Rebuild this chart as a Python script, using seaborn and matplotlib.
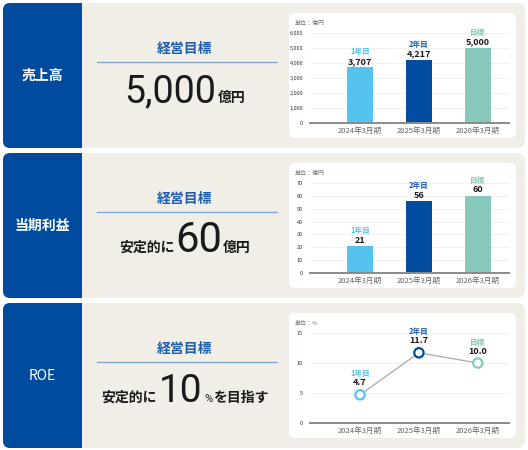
import matplotlib
matplotlib.use("Agg")
import matplotlib.pyplot as plt
import seaborn as sns
import pandas as pd
from matplotlib.patches import FancyBboxPatch, Rectangle
from matplotlib.lines import Line2D

sns.set_theme(style="white")
plt.rcParams['font.family'] = ['Noto Sans CJK JP', 'DejaVu Sans']

# ---------------- data ----------------
periods = ["2024年3月期", "2025年3月期", "2026年3月期"]
stage_labels = ["1年目", "2年目", "目標"]
sales = [3707, 4217, 5000]
sales_text = ["3,707", "4,217", "5,000"]
profit = [21, 56, 60]
profit_text = ["21", "56", "60"]
roe = [4.7, 11.7, 10.0]
roe_text = ["4.7", "11.7", "10.0"]
row_titles = ["売上高", "当期利益", "ROE"]
sales_ticks = [0, 1000, 2000, 3000, 4000, 5000, 6000]
sales_ticklabels = ["0", "1,000", "2,000", "3,000", "4,000", "5,000", "6,000"]
profit_ticks = [0, 10, 20, 30, 40, 50, 60, 70]
roe_ticks = [0, 5, 10, 15]
units = ["単位：億円", "単位：億円", "単位：%"]

COL = ["#55C3F0", "#004DA0", "#86C9BC"]
LBL = ["#55C3F0", "#1D5EB0", "#86C9BC"]
BLUE = "#004B9D"
BEIGE = "#F1EEE7"

W, H = 528, 450
fig = plt.figure(figsize=(W / 100, H / 100), dpi=100)
fig.patch.set_facecolor("white")

def fx(x):
    return x / W

def fy(y):
    return 1 - y / H

def rbox(x0, y0, x1, y1, color, r=6, z=0):
    p = FancyBboxPatch((fx(x0 + r), fy(y1) + r / H), (x1 - x0 - 2 * r) / W, (y1 - y0 - 2 * r) / H,
                       boxstyle=f"round,pad={r / W},rounding_size={r / W}",
                       transform=fig.transFigure, facecolor=color, edgecolor="none", zorder=z,
                       mutation_aspect=W / H)
    fig.patches.append(p)

def rect(x0, y0, x1, y1, color, z=0):
    p = Rectangle((fx(x0), fy(y1)), (x1 - x0) / W, (y1 - y0) / H, transform=fig.transFigure,
                  facecolor=color, edgecolor="none", zorder=z)
    fig.patches.append(p)

renderer = fig.canvas.get_renderer()

def compose(pieces, cx, base_y):
    texts = []
    widths = []
    for (s, size, weight, color, fam, gap) in pieces:
        t = fig.text(0, fy(base_y), s, fontsize=size, fontweight=weight, color=color,
                     ha="left", va="baseline", family=fam, zorder=5)
        bb = t.get_window_extent(renderer)
        texts.append(t)
        widths.append(bb.width + gap)
    total = sum(widths)
    x = cx - total / 2
    for t, w in zip(texts, widths):
        t.set_x(fx(x))
        x += w

CJK = ['Noto Sans CJK JP', 'DejaVu Sans']
NUM = ['Roboto', 'DejaVu Sans']
DK = "#1a1a1a"

big_lines = [
    [("5,000", 27, "normal", DK, NUM, 1), ("億円", 10, "bold", DK, CJK, 0)],
    [("安定的に", 10, "bold", DK, CJK, 1), ("60", 30, "normal", DK, NUM, 1),
     ("億円", 10, "bold", DK, CJK, 0)],
    [("安定的に", 10, "bold", DK, CJK, 2), ("10", 28, "normal", DK, NUM, 2),
     ("%", 8, "normal", DK, NUM, 1), ("を目指す", 10, "bold", DK, CJK, 0)],
]

tops = [3, 153, 303]
for i, top in enumerate(tops):
    bottom = top + 145
    rbox(3, top, 525, bottom, BEIGE, r=8, z=0)
    rbox(3, top, 82, bottom, BLUE, r=7, z=1)
    rect(70, top, 82, bottom, BLUE, z=1)
    rbox(289, top + 10, 516, top + 135, "white", r=6, z=1)
    fig.text(fx(42.5), fy(top + 73), row_titles[i], color="white", fontsize=10,
             fontweight="bold" if i < 2 else "normal", ha="center", va="center", zorder=5)
    fig.text(fx(185), fy(top + 46), "経営目標", color="#1D5EB0", fontsize=10,
             fontweight="bold", ha="center", va="center", zorder=5)
    fig.lines.append(Line2D([fx(97), fx(277)], [fy(top + 59), fy(top + 59)],
                            transform=fig.transFigure, color="#7FA8D4", lw=1, zorder=5))
    compose(big_lines[i], 185, top + 99)
    fig.text(fx(295), fy(top + 20), units[i], color="#777777", fontsize=4.3,
             ha="left", va="center", zorder=5)

def make_ax(top):
    ax = fig.add_axes([fx(310), fy(top + 120), 199 / W, 90 / H])
    ax.set_facecolor("none")
    ax.set_zorder(3)
    for s in ["left", "right", "top"]:
        ax.spines[s].set_visible(False)
    ax.spines["bottom"].set_color("#8a8a8a")
    ax.spines["bottom"].set_linewidth(1.4)
    ax.grid(axis="y", color="#eeeeee", lw=0.6)
    ax.set_axisbelow(True)
    ax.tick_params(axis="y", length=0, labelsize=4.0, labelcolor="#333333", pad=5)
    ax.tick_params(axis="x", length=0, labelsize=5.5, labelcolor="#666666", pad=3)
    ax.set_xlabel("")
    ax.set_ylabel("")
    return ax

# Bar charts
for top, vals, vtexts, ticks, tlabels in [
    (tops[0], sales, sales_text, sales_ticks, sales_ticklabels),
    (tops[1], profit, profit_text, profit_ticks, [str(t) for t in profit_ticks]),
]:
    ax = make_ax(top)
    df = pd.DataFrame({"period": periods, "value": vals})
    sns.barplot(data=df, x="period", y="value", hue="period", palette=COL, width=0.44,
                legend=False, ax=ax, saturation=1, edgecolor="none")
    ax.set_ylim(0, ticks[-1])
    ax.set_yticks(ticks)
    ax.set_yticklabels(tlabels)
    ax.set_xlim(-0.85, 2.53)
    ax.set_xlabel("")
    ax.set_ylabel("")
    for j, v in enumerate(vals):
        ax.annotate(vtexts[j], (j, v), xytext=(0, 6), textcoords="offset pixels",
                    ha="center", va="center", fontsize=6.5, fontweight="bold", color=DK)
        ax.annotate(stage_labels[j], (j, v), xytext=(0, 15.5), textcoords="offset pixels",
                    ha="center", va="center", fontsize=5.5, fontweight="bold", color=LBL[j])

# ROE line chart
ax = make_ax(tops[2])
df = pd.DataFrame({"x": [0, 1, 2], "roe": roe, "period": periods})
sns.lineplot(data=df, x="x", y="roe", color="#aaaaaa", lw=0.9, ax=ax, zorder=2)
sns.scatterplot(data=df, x="x", y="roe", hue="period", palette=COL, s=45, facecolor="white",
                legend=False, ax=ax, zorder=3, linewidth=0)
for coll in ax.collections:
    fc = coll.get_facecolors()
    if len(fc):
        coll.set_edgecolors(fc)
        coll.set_facecolors("white")
        coll.set_linewidths(1.6)
ax.set_ylim(0, 15)
ax.set_yticks(roe_ticks)
ax.set_xticks([0, 1, 2])
ax.set_xticklabels(periods)
ax.set_xlim(-0.85, 2.53)
ax.set_xlabel("")
ax.set_ylabel("")
for j, v in enumerate(roe):
    ax.annotate(roe_text[j], (j, v), xytext=(0, 12), textcoords="offset pixels",
                ha="center", va="center", fontsize=6.5, fontweight="bold", color=DK)
    ax.annotate(stage_labels[j], (j, v), xytext=(0, 21), textcoords="offset pixels",
                ha="center", va="center", fontsize=5.5, fontweight="bold", color=LBL[j])

fig.savefig("out.png", dpi=100, facecolor="white")
